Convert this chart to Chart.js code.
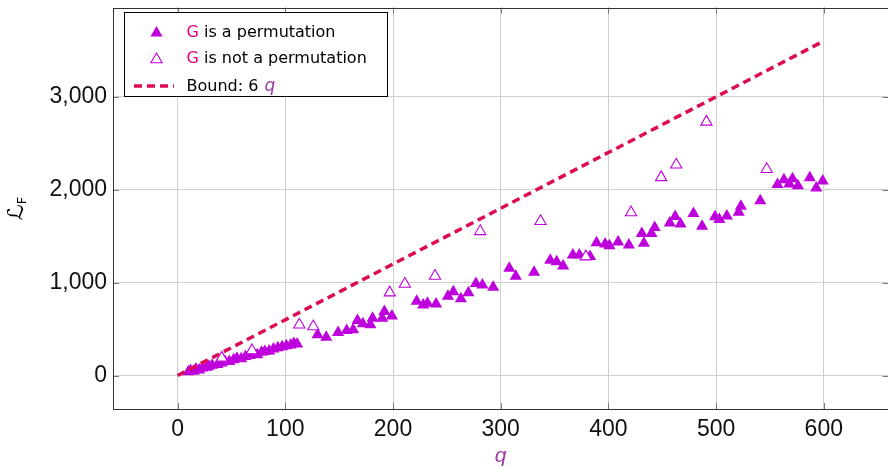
<!DOCTYPE html>
<html>
<head>
<meta charset="utf-8">
<script src="https://cdn.jsdelivr.net/npm/chart.js@4/dist/chart.umd.min.js"></script>
<style>
  html, body { margin: 0; padding: 0; background: #fff; overflow: hidden; width: 888px; height: 468px; }
  #wrap { width: 888px; height: 468px; overflow: hidden; position: relative; }
  #c { position: absolute; left: 0; top: 0; }
</style>
</head>
<body>
<div id="wrap"><canvas id="c" width="896" height="468"></canvas></div>
<script>
// ---- data ----
const xTicks = [0, 100, 200, 300, 400, 500, 600];
const yTicks = [0, 1000, 2000, 3000];

// G is a permutation (filled triangles)
const permQ = [10, 12, 15, 17, 20, 23, 27, 29, 32, 37, 41, 44, 48, 52, 55, 59, 63, 67, 71, 74, 78, 81, 85, 89, 93, 97, 101, 105, 108, 111,
  130, 138, 149, 157, 163, 167, 172, 179, 181, 190, 192, 199, 222, 228, 232, 240, 251, 256, 263, 270, 277, 283, 293,
  308, 314, 331, 346, 352, 358, 367, 373, 383, 389, 397, 401, 409, 419, 431, 433, 440, 443, 457, 462, 467, 479, 487,
  499, 503, 510, 521, 523, 541, 557, 563, 568, 571, 576, 587, 593, 599];
const permL = [40, 55, 45, 70, 60, 80, 90, 100, 110, 120, 135, 150, 150, 170, 185, 180, 205, 215, 230, 225, 250, 260, 265, 285, 300, 310, 320, 330, 345, 340,
  439, 413, 464, 485, 492, 592, 557, 546, 618, 618, 690, 642, 800, 760, 778, 771, 853, 903, 826, 890, 992, 974, 949,
  1156, 1070, 1113, 1240, 1224, 1180, 1298, 1298, 1281, 1428, 1415, 1397, 1438, 1405, 1528, 1424, 1528, 1594, 1641, 1713, 1630, 1745, 1606,
  1710, 1680, 1716, 1757, 1823, 1880, 2056, 2108, 2062, 2119, 2043, 2130, 2019, 2095];

// G is not a permutation (open triangles)
const nonPermQ = [41, 69, 113, 126, 197, 211, 239, 281, 337, 379, 421, 449, 463, 491, 547];
const nonPermL = [190, 270, 546, 528, 892, 985, 1071, 1552, 1660, 1280, 1755, 2133, 2268, 2730, 2220];

// Bound: 6 q
const boundQ = [0, 600];
const boundL = [0, 3600];

// ---- styles ----
const MARK = '#BE00DC';
const LINE = '#DE0A55';
const GCOL = '#E6007E';
const QCOL = '#9B3AA0';
const GRID = '#cfcfcf';

const pts = (xs, ys) => xs.map((x, i) => ({ x: x, y: ys[i] }));

function tri(ctx, x, y, r, fill, stroke, lw) {
  const s = Math.sin(Math.PI / 3) * r;
  ctx.beginPath();
  ctx.moveTo(x, y - r);
  ctx.lineTo(x + s, y + r / 2);
  ctx.lineTo(x - s, y + r / 2);
  ctx.closePath();
  if (fill) { ctx.fillStyle = fill; ctx.fill(); }
  if (stroke) { ctx.strokeStyle = stroke; ctx.lineWidth = lw; ctx.stroke(); }
}

const decor = {
  id: 'decor',
  afterDatasetsDraw(chart) {
    const ctx = chart.ctx, a = chart.chartArea;
    const xs = chart.scales.x, ys = chart.scales.y;
    ctx.save();
    // inner tick marks
    ctx.strokeStyle = '#7a7a7a';
    ctx.lineWidth = 1;
    xTicks.forEach(v => {
      const px = Math.round(xs.getPixelForValue(v)) + 0.5;
      ctx.beginPath();
      ctx.moveTo(px, a.bottom); ctx.lineTo(px, a.bottom - 6);
      ctx.moveTo(px, a.top); ctx.lineTo(px, a.top + 6);
      ctx.stroke();
    });
    yTicks.forEach(v => {
      const py = Math.round(ys.getPixelForValue(v)) + 0.5;
      ctx.beginPath();
      ctx.moveTo(a.left, py); ctx.lineTo(a.left + 6, py);
      ctx.moveTo(a.right, py); ctx.lineTo(a.right - 6, py);
      ctx.stroke();
    });
    // frame
    ctx.strokeStyle = '#333';
    ctx.lineWidth = 1;
    ctx.strokeRect(Math.round(a.left) + 0.5, Math.round(a.top) + 0.5, Math.round(a.right - a.left), Math.round(a.bottom - a.top));
    ctx.restore();
  },
  afterDraw(chart) {
    const ctx = chart.ctx, a = chart.chartArea;
    ctx.save();
    // ---- legend ----
    const L = 124.5, T = 12.5, W = 263, H = 84;
    ctx.fillStyle = '#fff';
    ctx.fillRect(L, T, W, H);
    ctx.strokeStyle = '#000';
    ctx.lineWidth = 1;
    ctx.strokeRect(L, T, W, H);

    tri(ctx, 156.5, 33, 7, MARK, null, 0);
    tri(ctx, 156.5, 59.5, 6.5, '#fff', MARK, 1.1);
    ctx.strokeStyle = LINE;
    ctx.lineWidth = 3.5;
    ctx.setLineDash([8, 5]);
    ctx.beginPath();
    ctx.moveTo(134, 86); ctx.lineTo(174, 86);
    ctx.stroke();
    ctx.setLineDash([]);

    ctx.font = '16px "DejaVu Sans"';
    ctx.textBaseline = 'alphabetic';
    ctx.textAlign = 'left';
    const tx = 186.5;
    const rows = [[' is a permutation', 36.7], [' is not a permutation', 63.3]];
    rows.forEach(([t, by]) => {
      ctx.fillStyle = GCOL;
      ctx.fillText('G', tx, by);
      const gw = ctx.measureText('G').width;
      ctx.fillStyle = '#000';
      ctx.fillText(t, tx + gw, by);
    });
    ctx.fillStyle = '#000';
    const bt = 'Bound: 6 ';
    ctx.fillText(bt, tx, 90.5);
    const bw = ctx.measureText(bt).width;
    ctx.fillStyle = QCOL;
    ctx.font = 'italic 17px "DejaVu Sans"';
    ctx.fillText('q', tx + bw + 1, 90.5);

    // ---- x axis title ----
    ctx.font = 'italic 21px "Liberation Sans"';
    ctx.fillStyle = QCOL;
    ctx.textAlign = 'center';
    ctx.fillText('q', chart.scales.x.getPixelForValue(300), 462);

    // ---- y axis title (rotated) ----
    ctx.translate(23, 208.5);
    ctx.rotate(-Math.PI / 2);
    ctx.fillStyle = '#000';
    ctx.textAlign = 'left';
    ctx.font = '22px "DejaVu Sans"';
    const w1 = ctx.measureText('\u2112').width;
    ctx.font = '13px "DejaVu Sans"';
    const w2 = ctx.measureText('F').width;
    const x0 = -(w1 + w2) / 2;
    ctx.font = '22px "DejaVu Sans"';
    ctx.fillText('\u2112', x0, 0);
    ctx.font = '13px "DejaVu Sans"';
    ctx.fillText('F', x0 + w1, 2.5);
    ctx.restore();
  }
};

new Chart(document.getElementById('c'), {
  type: 'scatter',
  data: {
    datasets: [
      {
        label: 'G is a permutation',
        data: pts(permQ, permL),
        pointStyle: 'triangle',
        pointRadius: 7,
        backgroundColor: MARK,
        borderColor: MARK,
        borderWidth: 0,
        order: 3
      },
      {
        label: 'G is not a permutation',
        data: pts(nonPermQ, nonPermL),
        pointStyle: 'triangle',
        pointRadius: 6.5,
        backgroundColor: '#fff',
        borderColor: MARK,
        borderWidth: 1.1,
        order: 2
      },
      {
        type: 'line',
        label: 'Bound: 6 q',
        data: pts(boundQ, boundL),
        showLine: true,
        pointRadius: 0,
        borderColor: LINE,
        borderWidth: 3.5,
        borderDash: [8, 5],
        borderCapStyle: 'butt',
        fill: false,
        order: 1
      }
    ]
  },
  options: {
    responsive: false,
    animation: false,
    devicePixelRatio: 1,
    layout: { padding: { left: 0, right: 3, top: 6, bottom: 0 } },
    plugins: { legend: { display: false }, tooltip: { enabled: false } },
    scales: {
      x: {
        type: 'linear',
        min: -60, max: 660,
        afterBuildTicks: s => { s.ticks = xTicks.map(v => ({ value: v })); },
        afterFit: s => { s.height = 59; s.paddingLeft = 0; s.paddingRight = 0; },
        grid: { color: GRID, lineWidth: 1, drawTicks: false },
        border: { display: false },
        ticks: {
          padding: 7,
          color: '#111',
          font: { family: '"Liberation Sans"', size: 23 },
          callback: v => String(v)
        }
      },
      y: {
        type: 'linear',
        min: -360, max: 3960,
        afterBuildTicks: s => { s.ticks = yTicks.map(v => ({ value: v })); },
        afterFit: s => { s.width = 113; s.paddingTop = 0; s.paddingBottom = 0; },
        grid: { color: GRID, lineWidth: 1, drawTicks: false },
        border: { display: false },
        ticks: {
          padding: 6,
          color: '#111',
          font: { family: '"Liberation Sans"', size: 23 },
          callback: v => v.toLocaleString('en-US')
        }
      }
    }
  },
  plugins: [decor]
});
</script>
</body>
</html>
